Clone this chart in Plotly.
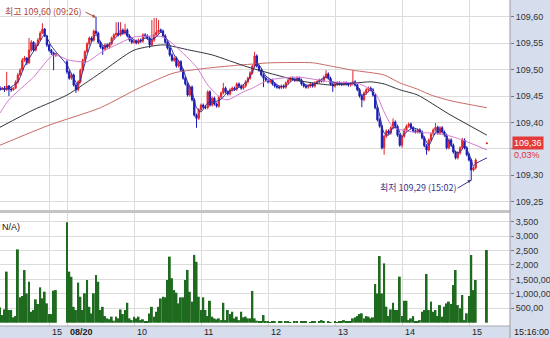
import plotly.graph_objects as go

# ---------------- data ----------------
def session(day, start, end):
    out, t = [], start
    while t <= end:
        out.append(f"{day} {t // 60:02d}:{t % 60:02d}")
        t += 2
    return out

times = session("08/19", 14 * 60 + 16, 15 * 60 + 6) + session("08/20", 9 * 60, 15 * 60 + 16)

open_d1 = [109.465, 109.463, 109.465, 109.462, 109.469, 109.463, 109.462, 109.465, 109.477, 109.490,
           109.499, 109.518, 109.522, 109.513, 109.537, 109.552, 109.537, 109.547, 109.556, 109.569,
           109.577, 109.564, 109.547, 109.537, 109.532, 109.528]
high_d1 = [109.469, 109.467, 109.469, 109.496, 109.471, 109.467, 109.467, 109.480, 109.494, 109.503,
           109.522, 109.526, 109.524, 109.560, 109.556, 109.554, 109.551, 109.560, 109.573, 109.588,
           109.579, 109.566, 109.549, 109.539, 109.534, 109.532]
low_d1 = [109.460, 109.462, 109.458, 109.460, 109.450, 109.458, 109.460, 109.463, 109.473, 109.488,
          109.497, 109.515, 109.509, 109.511, 109.534, 109.534, 109.535, 109.545, 109.554, 109.568,
          109.562, 109.543, 109.534, 109.528, 109.499, 109.524]
close_d1 = [109.463, 109.465, 109.462, 109.469, 109.463, 109.462, 109.465, 109.477, 109.490, 109.499,
            109.518, 109.522, 109.513, 109.537, 109.552, 109.537, 109.547, 109.556, 109.569, 109.577,
            109.564, 109.547, 109.537, 109.532, 109.528, 109.530]
volume_d1 = [530, 265, 460, 1770, 440, 440, 185, 230, 2540, 880, 925, 1825, 1015, 1420, 380, 440,
             810, 650, 1225, 845, 1075, 670, 300, 300, 1110, 1130]

N4 = [None, None, None, None]
open_d2 = [
    109.515, 109.496, 109.484, 109.490, 109.471, 109.462, 109.477, 109.499, 109.518, 109.534,
    109.549, 109.560, 109.556, 109.573, 109.569, 109.552, 109.543, 109.539, 109.547, 109.543,
    109.549, 109.560, 109.566, 109.569, 109.566, 109.575, 109.569, 109.575, 109.564, 109.556,
    109.552, 109.554, 109.551, 109.556, 109.554, 109.566, 109.564, 109.560, 109.547, 109.556,
    109.566, 109.571, 109.575, 109.573, 109.564, 109.552, 109.541, 109.528, 109.518, 109.522,
    109.507, 109.515, 109.499, 109.484, 109.473, 109.452, 109.467, 109.443, 109.414, 109.408,
    109.424, 109.433, 109.429, 109.428, 109.458, 109.433, 109.446, 109.435, 109.431, 109.448,
    109.456, 109.465, 109.458, 109.454, 109.462, 109.465, 109.463, 109.473, 109.469, 109.465,
    109.469, 109.477, 109.484, 109.494, 109.507, 109.526, 109.507, 109.499, 109.490, 109.484,
    109.480, 109.477, 109.480, 109.473, 109.469, 109.467, 109.466, 109.469, 109.467, 109.475,
    109.480, 109.484, 109.482, 109.480, 109.484, 109.480, 109.473, 109.469, 109.467, 109.469,
    109.473, 109.469, 109.475, 109.477, 109.480, 109.479, 109.486, 109.492, 109.484, 109.473,
    109.469, 109.473, 109.475, 109.473, 109.472, 109.475, 109.473, 109.471, 109.473, 109.477,
    109.471, 109.462, 109.450, 109.443, 109.456, 109.462, 109.465, 109.462, 109.452, 109.428,
    109.405, 109.393, 109.352, 109.374, 109.384, 109.380, 109.390, 109.401, 109.393, 109.376,
    109.357, 109.374, 109.386, 109.393, 109.397, 109.390, 109.384, 109.382, 109.386, 109.382,
    109.371, 109.356, 109.348, 109.367, 109.378, 109.386, 109.391, 109.380, 109.390, 109.382,
    109.376, 109.352, 109.367, 109.357, 109.344, 109.333, 109.342, 109.352, 109.367, 109.352,
    109.339, 109.329, 109.310, 109.314] + N4 + [109.360]
high_d2 = [
    109.518, 109.499, 109.493, 109.493, 109.474, 109.480, 109.502, 109.521, 109.537, 109.552,
    109.563, 109.563, 109.576, 109.600, 109.572, 109.555, 109.546, 109.550, 109.550, 109.552,
    109.563, 109.569, 109.590, 109.590, 109.590, 109.578, 109.587, 109.578, 109.567, 109.559,
    109.557, 109.557, 109.559, 109.559, 109.569, 109.569, 109.567, 109.563, 109.594, 109.598,
    109.598, 109.594, 109.578, 109.576, 109.567, 109.555, 109.544, 109.531, 109.525, 109.525,
    109.518, 109.518, 109.502, 109.487, 109.476, 109.470, 109.470, 109.446, 109.417, 109.427,
    109.436, 109.436, 109.432, 109.461, 109.461, 109.449, 109.449, 109.438, 109.451, 109.459,
    109.475, 109.468, 109.461, 109.465, 109.468, 109.468, 109.476, 109.476, 109.472, 109.472,
    109.480, 109.487, 109.497, 109.510, 109.534, 109.529, 109.510, 109.502, 109.493, 109.487,
    109.483, 109.483, 109.483, 109.476, 109.472, 109.470, 109.472, 109.472, 109.478, 109.483,
    109.487, 109.487, 109.485, 109.487, 109.487, 109.483, 109.476, 109.472, 109.472, 109.476,
    109.476, 109.478, 109.480, 109.483, 109.483, 109.489, 109.499, 109.495, 109.487, 109.476,
    109.476, 109.478, 109.478, 109.476, 109.478, 109.478, 109.476, 109.476, 109.499, 109.480,
    109.474, 109.465, 109.453, 109.459, 109.465, 109.468, 109.468, 109.465, 109.455, 109.431,
    109.408, 109.396, 109.377, 109.387, 109.387, 109.393, 109.408, 109.404, 109.396, 109.379,
    109.377, 109.389, 109.396, 109.400, 109.400, 109.393, 109.387, 109.389, 109.389, 109.385,
    109.374, 109.359, 109.370, 109.381, 109.389, 109.399, 109.394, 109.393, 109.393, 109.385,
    109.379, 109.370, 109.370, 109.360, 109.347, 109.345, 109.355, 109.371, 109.370, 109.355,
    109.342, 109.332, 109.317, 109.332] + N4 + [109.362]
low_d2 = [
    109.492, 109.481, 109.481, 109.468, 109.456, 109.459, 109.474, 109.496, 109.515, 109.531,
    109.546, 109.553, 109.553, 109.566, 109.549, 109.540, 109.528, 109.536, 109.540, 109.540,
    109.546, 109.557, 109.563, 109.563, 109.563, 109.566, 109.566, 109.561, 109.553, 109.549,
    109.549, 109.548, 109.548, 109.551, 109.551, 109.561, 109.557, 109.541, 109.544, 109.553,
    109.563, 109.568, 109.570, 109.561, 109.549, 109.538, 109.525, 109.515, 109.515, 109.504,
    109.504, 109.496, 109.481, 109.470, 109.449, 109.449, 109.440, 109.411, 109.390, 109.405,
    109.421, 109.426, 109.425, 109.425, 109.430, 109.430, 109.432, 109.428, 109.428, 109.445,
    109.453, 109.455, 109.451, 109.451, 109.459, 109.460, 109.460, 109.466, 109.462, 109.462,
    109.466, 109.474, 109.481, 109.491, 109.504, 109.504, 109.496, 109.487, 109.467, 109.477,
    109.474, 109.474, 109.470, 109.466, 109.464, 109.463, 109.463, 109.464, 109.464, 109.472,
    109.477, 109.479, 109.477, 109.477, 109.477, 109.470, 109.466, 109.464, 109.464, 109.466,
    109.466, 109.466, 109.472, 109.474, 109.476, 109.476, 109.483, 109.481, 109.470, 109.458,
    109.466, 109.470, 109.470, 109.469, 109.469, 109.470, 109.468, 109.468, 109.470, 109.468,
    109.459, 109.447, 109.429, 109.440, 109.453, 109.459, 109.459, 109.449, 109.425, 109.402,
    109.390, 109.349, 109.339, 109.371, 109.377, 109.377, 109.387, 109.390, 109.373, 109.354,
    109.352, 109.371, 109.383, 109.390, 109.387, 109.381, 109.379, 109.379, 109.379, 109.368,
    109.353, 109.339, 109.345, 109.364, 109.375, 109.383, 109.377, 109.377, 109.379, 109.373,
    109.349, 109.349, 109.354, 109.341, 109.330, 109.330, 109.339, 109.349, 109.349, 109.336,
    109.326, 109.290, 109.307, 109.311] + N4 + [109.359]
close_d2 = [
    109.496, 109.484, 109.490, 109.471, 109.462, 109.477, 109.499, 109.518, 109.534, 109.549,
    109.560, 109.556, 109.573, 109.569, 109.552, 109.543, 109.539, 109.547, 109.543, 109.549,
    109.560, 109.566, 109.569, 109.566, 109.575, 109.569, 109.575, 109.564, 109.556, 109.552,
    109.554, 109.551, 109.556, 109.554, 109.566, 109.564, 109.560, 109.547, 109.556, 109.566,
    109.571, 109.575, 109.573, 109.564, 109.552, 109.541, 109.528, 109.518, 109.522, 109.507,
    109.515, 109.499, 109.484, 109.473, 109.452, 109.467, 109.443, 109.414, 109.408, 109.424,
    109.433, 109.429, 109.428, 109.458, 109.433, 109.446, 109.435, 109.431, 109.448, 109.456,
    109.465, 109.458, 109.454, 109.462, 109.465, 109.463, 109.473, 109.469, 109.465, 109.469,
    109.477, 109.484, 109.494, 109.507, 109.526, 109.507, 109.499, 109.490, 109.484, 109.480,
    109.477, 109.480, 109.473, 109.469, 109.467, 109.466, 109.469, 109.467, 109.475, 109.480,
    109.484, 109.482, 109.480, 109.484, 109.480, 109.473, 109.469, 109.467, 109.469, 109.473,
    109.469, 109.475, 109.477, 109.480, 109.479, 109.486, 109.492, 109.484, 109.473, 109.469,
    109.473, 109.475, 109.473, 109.472, 109.475, 109.473, 109.471, 109.473, 109.477, 109.471,
    109.462, 109.450, 109.443, 109.456, 109.462, 109.465, 109.462, 109.452, 109.428, 109.405,
    109.393, 109.352, 109.374, 109.384, 109.380, 109.390, 109.401, 109.393, 109.376, 109.357,
    109.374, 109.386, 109.393, 109.397, 109.390, 109.384, 109.382, 109.386, 109.382, 109.371,
    109.356, 109.348, 109.367, 109.378, 109.386, 109.391, 109.380, 109.390, 109.382, 109.376,
    109.352, 109.367, 109.357, 109.344, 109.333, 109.342, 109.352, 109.367, 109.352, 109.339,
    109.329, 109.310, 109.314, 109.329] + N4 + [109.361]
volume_d2 = [
    3480, 1770, 1590, 550, 440, 1390, 900, 440, 1020, 1480,
    550, 320, 1020, 1650, 1420, 440, 550, 230, 150, 120,
    210, 70, 210, 150, 460, 300, 440, 690, 150, 90,
    210, 150, 210, 90, 120, 35, 35, 320, 550, 210,
    380, 550, 840, 900, 880, 1480, 2290, 1540, 1130, 1040,
    670, 880, 880, 1480, 1830, 1070, 730, 2350, 2110, 900,
    440, 880, 440, 230, 760, 210, 150, 115, 150, 90,
    690, 90, 440, 300, 380, 150, 210, 90, 380, 185,
    210, 150, 150, 1100, 150, 70, 35, 35, 265, 35,
    40, 20, 60, 30, 0, 45, 25, 0, 30, 50,
    20, 0, 40, 35, 0, 25, 45, 30, 0, 20,
    35, 40, 0, 25, 90, 30, 0, 50, 20, 0,
    35, 20, 45, 60, 90, 30, 60, 40, 150, 185,
    230, 300, 325, 150, 230, 210, 150, 185,
    1340, 1015, 2310, 1015, 2055, 555, 230, 460, 690, 440,
    440, 1595, 230, 760, 760, 90, 150, 230, 35, 35,
    90, 380, 440, 1690, 440, 730, 380, 440, 230, 610,
    210, 555, 670, 730, 650, 1305, 1825, 610, 500, 960,
    90, 325, 925, 2345, 1130, 1480,
    0, 0, 0, 0, 2520]

open_ = open_d1 + open_d2
high = high_d1 + high_d2
low = low_d1 + low_d2
close = close_d1 + close_d2
volume = volume_d1 + volume_d2

# moving-average lines
ma_short_t = ["08/19 14:16", "08/19 14:24", "08/19 14:32", "08/19 14:38", "08/19 14:44", "08/19 14:50",
              "08/19 14:56", "08/19 15:02", "08/19 15:06", "08/20 09:00", "08/20 09:06", "08/20 09:10",
              "08/20 09:14", "08/20 09:18", "08/20 09:22", "08/20 09:26", "08/20 09:30", "08/20 09:34",
              "08/20 09:40", "08/20 09:46", "08/20 09:52", "08/20 09:58", "08/20 10:04", "08/20 10:10",
              "08/20 10:14", "08/20 10:20", "08/20 10:24", "08/20 10:30", "08/20 10:36", "08/20 10:42",
              "08/20 10:48", "08/20 10:52", "08/20 10:56", "08/20 11:00", "08/20 11:06", "08/20 11:12",
              "08/20 11:18", "08/20 11:24", "08/20 11:30", "08/20 11:36", "08/20 11:42", "08/20 11:46",
              "08/20 11:50", "08/20 11:54", "08/20 11:58", "08/20 12:04", "08/20 12:10", "08/20 12:16",
              "08/20 12:22", "08/20 12:28", "08/20 12:34", "08/20 12:40", "08/20 12:46", "08/20 12:52",
              "08/20 12:58", "08/20 13:04", "08/20 13:10", "08/20 13:16", "08/20 13:20", "08/20 13:24",
              "08/20 13:28", "08/20 13:32", "08/20 13:36", "08/20 13:40", "08/20 13:44", "08/20 13:48",
              "08/20 13:52", "08/20 13:56", "08/20 14:00", "08/20 14:04", "08/20 14:10", "08/20 14:16",
              "08/20 14:20", "08/20 14:24", "08/20 14:28", "08/20 14:32", "08/20 14:36", "08/20 14:40",
              "08/20 14:44", "08/20 14:48", "08/20 14:52", "08/20 14:56", "08/20 15:00", "08/20 15:04",
              "08/20 15:06", "08/20 15:16"]
ma_short_v = [109.463, 109.465, 109.477, 109.507, 109.528, 109.547, 109.566, 109.545, 109.534, 109.509,
              109.484, 109.471, 109.496, 109.528, 109.552, 109.566, 109.552, 109.543, 109.552, 109.566,
              109.571, 109.560, 109.552, 109.560, 109.556, 109.562, 109.571, 109.556, 109.528, 109.511,
              109.477, 109.458, 109.428, 109.420, 109.437, 109.439, 109.444, 109.458, 109.462, 109.469,
              109.479, 109.496, 109.513, 109.503, 109.488, 109.479, 109.469, 109.469, 109.480, 109.482,
              109.471, 109.471, 109.479, 109.486, 109.477, 109.473, 109.473, 109.475, 109.469, 109.452,
              109.454, 109.462, 109.446, 109.414, 109.380, 109.376, 109.390, 109.390, 109.373, 109.382,
              109.390, 109.384, 109.371, 109.357, 109.373, 109.386, 109.384, 109.371, 109.357, 109.344,
              109.344, 109.356, 109.340, 109.318, 109.322, 109.333]

ma_mid_t = ["08/19 14:16", "08/19 14:24", "08/19 14:46", "08/19 15:04", "08/20 09:02", "08/20 09:18",
            "08/20 09:30", "08/20 09:48", "08/20 10:00", "08/20 10:26", "08/20 10:38", "08/20 10:56",
            "08/20 11:06", "08/20 11:18", "08/20 11:24", "08/20 11:38", "08/20 11:46", "08/20 12:00",
            "08/20 12:26", "08/20 12:56", "08/20 13:22", "08/20 13:36", "08/20 13:44", "08/20 13:52",
            "08/20 14:10", "08/20 14:26", "08/20 14:40", "08/20 14:54", "08/20 15:16"]
ma_mid_v = [109.418, 109.443, 109.486, 109.528, 109.518, 109.515, 109.532, 109.551, 109.562, 109.562,
            109.543, 109.505, 109.471, 109.446, 109.443, 109.458, 109.465, 109.480, 109.486, 109.477,
            109.473, 109.456, 109.420, 109.391, 109.382, 109.380, 109.376, 109.367, 109.348]

ma_slow_t = ["08/19 14:16", "08/19 14:46", "08/20 09:00", "08/20 09:30", "08/20 10:00", "08/20 10:26",
             "08/20 10:50", "08/20 11:10", "08/20 11:42", "08/20 12:26", "08/20 12:56", "08/20 13:32",
             "08/20 13:44", "08/20 13:58", "08/20 14:14", "08/20 14:42", "08/20 15:16"]
ma_slow_v = [109.391, 109.424, 109.452, 109.494, 109.537, 109.547, 109.537, 109.528, 109.505, 109.480,
             109.471, 109.477, 109.473, 109.462, 109.452, 109.416, 109.376]

ma_long_t = ["08/19 14:16", "08/19 15:00", "08/20 09:30", "08/20 10:06", "08/20 10:36", "08/20 11:06",
             "08/20 11:36", "08/20 12:02", "08/20 12:40", "08/20 12:56", "08/20 13:16", "08/20 13:44",
             "08/20 13:58", "08/20 14:14", "08/20 14:26", "08/20 14:44", "08/20 15:16"]
ma_long_v = [109.357, 109.395, 109.428, 109.467, 109.494, 109.503, 109.509, 109.513, 109.513, 109.507,
             109.499, 109.490, 109.475, 109.463, 109.452, 109.441, 109.428]

tick_times = ["08/19 15:00", "08/20 09:00", "08/20 10:00", "08/20 11:00",
              "08/20 12:00", "08/20 13:00", "08/20 14:00", "08/20 15:00"]
tick_labels = ["15", "08/20", "10", "11", "12", "13", "14", "15"]
price_ticks = [109.25, 109.30, 109.35, 109.40, 109.45, 109.50, 109.55, 109.60]
price_tick_text = ["109,25", "109,30", "", "109,40", "109,45", "109,50", "109,55", "109,60"]
vol_ticks = [500, 1000, 1500, 2000, 2500, 3000, 3500]
vol_tick_text = ["500,00", "1,000,00", "1,500,00", "2,000", "2,500", "3,000", "3,500"]

high_label = "최고 109,60 (09:26)"
high_time, high_val = "08/20 09:26", 109.60
low_label = "최저 109,29 (15:02)"
low_time, low_val = "08/20 15:02", 109.29
change_pct = "0,03%"
last_time_label = "15:16:00"


# ---------------- helpers ----------------
def slot_of(t):
    day, hm = t.split()
    h, m = map(int, hm.split(":"))
    mins = h * 60 + m
    if day == "08/19":
        return (mins - (14 * 60 + 16)) / 2
    return 30 + (mins - 9 * 60) / 2


xs = [slot_of(t) for t in times]
W, H = 550, 338
PR = 510 / W
RED, BLUE, GREEN = "#E3262A", "#1A1AB8", "#1E6A1E"
GRID = "#DCDCDC"
PANEL = "#D6DEEE"
FONT = "Liberation Sans, Arial, sans-serif"
KFONT = "Noto Sans CJK KR, sans-serif"

fig = go.Figure()

fig.add_trace(go.Bar(x=xs, y=volume, marker=dict(color=GREEN, line=dict(width=0)),
                     xaxis="x2", yaxis="y2", hoverinfo="skip", showlegend=False))

fig.add_trace(go.Candlestick(
    x=xs, open=open_, high=high, low=low, close=close,
    increasing=dict(line=dict(color=RED, width=1), fillcolor=RED),
    decreasing=dict(line=dict(color=BLUE, width=1), fillcolor=BLUE),
    whiskerwidth=0, hoverinfo="skip", showlegend=False, xaxis="x", yaxis="y"))

for t_list, v_list, col in [(ma_long_t, ma_long_v, "#C86A66"),
                            (ma_slow_t, ma_slow_v, "#333340"),
                            (ma_mid_t, ma_mid_v, "#D27AD2"),
                            (ma_short_t, ma_short_v, "#2E2E9A")]:
    fig.add_trace(go.Scatter(x=[slot_of(t) for t in t_list], y=v_list, mode="lines",
                             line=dict(color=col, width=1, shape="spline", smoothing=0.6),
                             hoverinfo="skip", showlegend=False, xaxis="x", yaxis="y"))

tick_slots = [slot_of(t) for t in tick_times]
x_range = [0, 510 / (67 / 30)]
price_top = 109.632
price_bot = price_top - 210 * (0.05 / 26.4)

axis_common = dict(domain=[0, PR], range=x_range, tickvals=tick_slots, showticklabels=False,
                   showgrid=True, gridcolor=GRID, gridwidth=1, zeroline=False, ticks="",
                   showline=False, fixedrange=True)
fig.update_layout(
    width=W, height=H, margin=dict(l=0, r=0, t=0, b=0),
    paper_bgcolor="white", plot_bgcolor="white", bargap=0.12, boxgap=0.2,
    xaxis=dict(**axis_common, anchor="y", rangeslider=dict(visible=False)),
    xaxis2=dict(**axis_common, anchor="y2", matches="x"),
    yaxis=dict(domain=[1 - 210 / H, 1], range=[price_bot, price_top], side="right", anchor="x",
               tickvals=price_ticks, ticktext=price_tick_text, showgrid=True, gridcolor=GRID,
               zeroline=False, ticks="outside", ticklen=3, tickcolor="#777",
               tickfont=dict(family=FONT, size=9, color="#333"), fixedrange=True),
    yaxis2=dict(domain=[0, 1 - 213 / H], range=[-530, 3801], side="right", anchor="x2",
                tickvals=vol_ticks, ticktext=vol_tick_text, showgrid=True, gridcolor=GRID,
                zeroline=False, ticks="outside", ticklen=3, tickcolor="#777",
                tickfont=dict(family=FONT, size=9, color="#333"), fixedrange=True),
)

shapes = [
    dict(type="rect", xref="paper", yref="paper", x0=PR, x1=1, y0=0, y1=1,
         fillcolor=PANEL, line=dict(width=0), layer="below"),
    dict(type="rect", xref="paper", yref="paper", x0=0, x1=1, y0=0, y1=12 / H,
         fillcolor=PANEL, line=dict(width=0), layer="below"),
    dict(type="line", xref="paper", yref="paper", x0=0, x1=PR, y0=12 / H, y1=12 / H,
         line=dict(color="#A8A8A8", width=1)),
    dict(type="rect", xref="paper", yref="paper", x0=0, x1=PR, y0=1 - 213 / H, y1=1 - 210 / H,
         fillcolor="#C4C4C4", line=dict(width=0)),
    dict(type="line", xref="paper", yref="paper", x0=PR, x1=PR, y0=0, y1=1,
         line=dict(color="#9A9A9A", width=1)),
]
fig.update_layout(shapes=shapes)

ann = []
for s, lab in zip(tick_slots, tick_labels):
    ann.append(dict(xref="x", yref="paper", x=s + 0.6, y=6 / H, xanchor="left", yanchor="middle",
                    text=f"<b>{lab}</b>" if "/" in lab else lab, showarrow=False,
                    font=dict(family=FONT, size=9, color="#222")))
ann.append(dict(xref="paper", yref="paper", x=512 / W, y=6 / H, xanchor="left", yanchor="middle",
                text=last_time_label, showarrow=False, font=dict(family=FONT, size=9, color="#222")))
ann.append(dict(xref="paper", yref="paper", x=0, y=1 - 227 / H, xanchor="left", yanchor="middle",
                text="N/A)", showarrow=False, font=dict(family=FONT, size=9, color="#111")))
last_close = close[-1]
ann.append(dict(xref="paper", yref="y", x=512 / W, y=last_close, xanchor="left", yanchor="middle",
                text=f"{last_close:.2f}".replace(".", ","), showarrow=False, bgcolor="#E43A3A",
                borderpad=1, font=dict(family=FONT, size=9, color="white")))
ann.append(dict(xref="paper", yref="y", x=512 / W, y=last_close - 0.022, xanchor="left",
                yanchor="middle", text=change_pct, showarrow=False,
                font=dict(family=FONT, size=9, color="#E03030")))
ann.append(dict(xref="paper", yref="paper", x=3 / W, y=1 - 12 / H, xanchor="left", yanchor="middle",
                text=high_label, showarrow=False, font=dict(family=KFONT, size=9, color="#B0473A")))
ann.append(dict(xref="x", yref="y", x=slot_of(high_time), y=high_val - 0.001, text="",
                showarrow=True, ax=-12, ay=-6, arrowhead=2, arrowsize=0.7, arrowwidth=1,
                arrowcolor="#B0473A"))
ann.append(dict(xref="paper", yref="paper", x=378 / W, y=1 - 188 / H, xanchor="left", yanchor="middle",
                text=low_label, showarrow=False, font=dict(family=KFONT, size=9, color="#36368A")))
ann.append(dict(xref="x", yref="y", x=slot_of(low_time), y=low_val + 0.001, text="",
                showarrow=True, ax=-15, ay=9, arrowhead=2, arrowsize=0.7, arrowwidth=1,
                arrowcolor="#36368A"))
fig.update_layout(annotations=ann)

fig.write_html("out.html")
